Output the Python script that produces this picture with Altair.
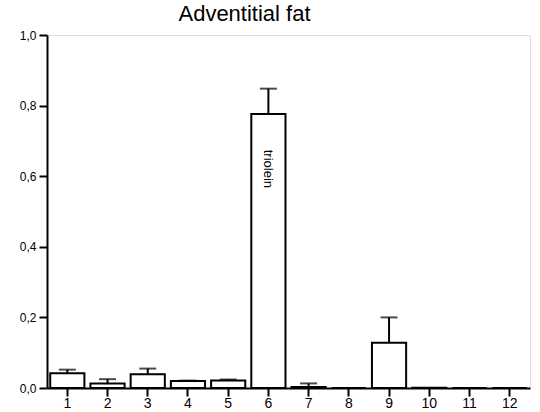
import altair as alt
import pandas as pd

categories = ["1", "2", "3", "4", "5", "6", "7", "8", "9", "10", "11", "12"]
values = [0.042, 0.013, 0.039, 0.020, 0.021, 0.776, 0.003, 0.0, 0.128, 0.001, 0.0, 0.0]
err_top = [0.052, 0.025, 0.055, 0.021, 0.024, 0.848, 0.013, 0.0, 0.200, 0.001, 0.0, 0.0]
label_text = ["triolein"]
label_cat = ["6"]
label_y = [0.675]

df = pd.DataFrame({"cat": categories, "value": values, "err": err_top})
lab = pd.DataFrame({"cat": label_cat, "y": label_y, "text": label_text})
err_df = df[df["err"] > df["value"] + 0.0005]

x = alt.X("cat:N", sort=categories, title=None,
          scale=alt.Scale(paddingInner=0.15, paddingOuter=0.08),
          axis=alt.Axis(labelAngle=0, labelFontSize=14, labelFont="Liberation Sans",
                        labelColor="black", tickSize=8, tickWidth=2, tickColor="black",
                        domainColor="black", domainWidth=2, labelPadding=0))
y_axis = alt.Axis(values=[0, 0.2, 0.4, 0.6, 0.8, 1.0], format=".1f",
                  labelExpr="replace(format(datum.value, '.1f'), '.', ',')",
                  labelFontSize=12, labelFont="Liberation Sans", labelColor="black",
                  tickSize=8, tickWidth=2, tickColor="black", domainColor="black",
                  domainWidth=2, grid=False, labelPadding=3)
y_scale = alt.Scale(domain=[0, 1.0], nice=False)

bars = alt.Chart(df).mark_bar(fill="white", stroke="black", strokeWidth=2).encode(
    x=x,
    y=alt.Y("value:Q", scale=y_scale, axis=y_axis, title=None),
)
rules = alt.Chart(err_df).mark_rule(color="black", strokeWidth=2).encode(
    x=alt.X("cat:N", sort=categories),
    y=alt.Y("value:Q"),
    y2="err:Q",
)
caps = alt.Chart(err_df).mark_tick(color="black", thickness=2, size=17).encode(
    x=alt.X("cat:N", sort=categories),
    y=alt.Y("err:Q"),
)
text = alt.Chart(lab).mark_text(angle=90, align="left", baseline="middle",
                                fontSize=13, font="Liberation Sans", color="black").encode(
    x=alt.X("cat:N", sort=categories),
    y=alt.Y("y:Q"),
    text="text:N",
)

chart = alt.layer(bars, rules, caps, text).properties(
    width=483, height=353,
    title=alt.TitleParams("Adventitial fat", fontSize=22, font="Liberation Sans",
                          fontWeight="normal", color="black", anchor="middle",
                          dx=-44, offset=3),
    autosize=alt.AutoSizeParams(type="none"),
    padding={"left": 47, "top": 35, "right": 10, "bottom": 24},
).configure_view(stroke=None).configure(background="white")

chart.save("out.html", embed_options={"renderer": "svg", "actions": False})
